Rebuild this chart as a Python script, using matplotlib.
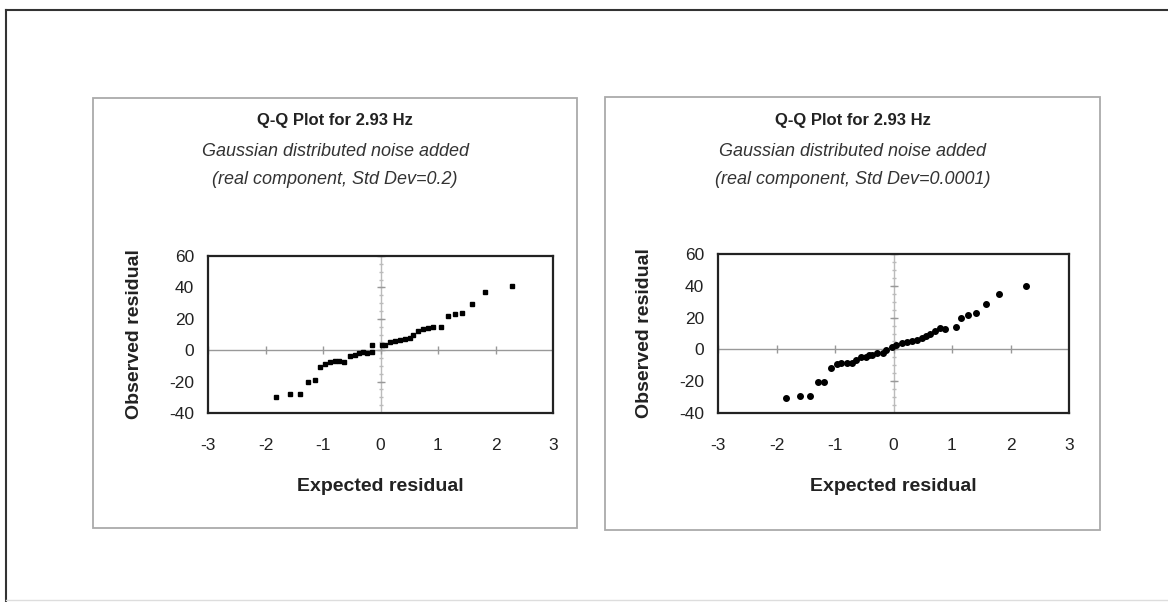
import numpy as np
import matplotlib
matplotlib.use('Agg')
from matplotlib import pyplot as plt
from matplotlib.patches import Rectangle
from matplotlib.lines import Line2D

plt.rcParams['font.family'] = ['Liberation Sans', 'DejaVu Sans']
plt.rcParams['axes.unicode_minus'] = False

# left panel: Std Dev = 0.2
exp_a = [-1.81, -1.57, -1.40, -1.26, -1.14, -1.05, -0.97, -0.88, -0.79, -0.72,
         -0.63, -0.53, -0.44, -0.37, -0.30, -0.24, -0.15, -0.14, 0.02, 0.08,
         0.17, 0.25, 0.34, 0.43, 0.51, 0.57, 0.66, 0.74, 0.83, 0.92,
         1.06, 1.18, 1.29, 1.41, 1.59, 1.82, 2.28]
obs_a = [-30, -28, -28, -20, -19, -11, -9, -7.5, -7, -7,
         -7.5, -3.5, -3, -2, -1, -1.5, -1, 3, 3, 3.5,
         5.5, 6, 6.5, 7, 8, 10, 12, 13.5, 14, 14.5,
         14.5, 22, 23, 24, 29.5, 37, 41]

# right panel: Std Dev = 0.0001
exp_b = [-1.84, -1.60, -1.42, -1.29, -1.18, -1.07, -0.97, -0.89, -0.80, -0.71,
         -0.64, -0.56, -0.47, -0.42, -0.37, -0.28, -0.18, -0.12, -0.03, 0.05,
         0.14, 0.23, 0.31, 0.40, 0.48, 0.56, 0.62, 0.71, 0.79, 0.88,
         1.07, 1.16, 1.28, 1.41, 1.58, 1.81, 2.27]
obs_b = [-30.5, -29, -29, -20.5, -20.5, -11.5, -9.2, -8.8, -8.5, -8.4,
         -6.7, -5, -4.5, -3.8, -3.5, -2.4, -2, -0.4, 1.3, 2.8,
         3.8, 4.8, 5, 5.9, 7, 8.4, 10, 11.8, 13.3, 13,
         13.9, 19.6, 21.6, 23, 28.5, 34.8, 39.9]

xticks = [-3, -2, -1, 0, 1, 2, 3]
yticks = [-40, -20, 0, 20, 40, 60]
title = 'Q-Q Plot for 2.93 Hz'
sub1 = 'Gaussian distributed noise added'
sub2 = ['(real component, Std Dev=0.2)', '(real component, Std Dev=0.0001)']

W, H = 1168, 602
fig = plt.figure(figsize=(W / 100, H / 100), dpi=100)


def fx(px):
    return px / W


def fy(py):
    return 1 - py / H


# outer frame of the scanned page
fig.add_artist(Line2D([fx(6), fx(6)], [fy(10), fy(601)], color='#333333', lw=1.5))
fig.add_artist(Line2D([fx(6), 1], [fy(10), fy(10)], color='#333333', lw=1.5))
fig.add_artist(Line2D([fx(6), 1], [fy(600), fy(600)], color='#dddddd', lw=1))

panels = [(93, 98, 577, 528), (605, 97, 1100, 530)]
axes_px = [(208, 256, 553, 413), (718, 254, 1069, 413)]
data = [(exp_a, obs_a, 's', 3.0), (exp_b, obs_b, 'o', 4.0)]

for i in range(2):
    l, t, r, b = panels[i]
    fig.add_artist(Rectangle((fx(l), fy(b)), fx(r - l), (b - t) / H,
                             fill=False, ec='#aaaaaa', lw=1.3))
    cx = fx((l + r) / 2)
    fig.text(cx, fy(121), title, ha='center', va='center', fontsize=12,
             fontweight='bold', color='#222222')
    fig.text(cx, fy(151), sub1, ha='center', va='center', fontsize=13,
             style='italic', color='#333333')
    fig.text(cx, fy(180), sub2[i], ha='center', va='center', fontsize=13,
             style='italic', color='#333333')

    al, at, ar, ab = axes_px[i]
    ax = fig.add_axes([fx(al), fy(ab), fx(ar - al), (ab - at) / H])
    ax.set_xlim(-3, 3)
    ax.set_ylim(-40, 60)
    ax.set_xticks(xticks)
    ax.set_yticks(yticks)
    ax.tick_params(length=0, labelsize=12.5, colors='#222222', pad=18)
    ax.tick_params(axis='y', pad=10)
    for s in ax.spines.values():
        s.set_linewidth(1.6)
        s.set_color('#222222')

    # zero lines with tick marks, as in the original
    ax.axhline(0, color='#999999', lw=1)
    ax.axvline(0, color='#bbbbbb', lw=1)
    ax.plot(xticks, [0] * len(xticks), ls='none', marker='|', ms=6, color='#999999')
    minor_y = np.arange(-40, 61, 5)
    ax.plot([0] * len(minor_y), minor_y, ls='none', marker='_', ms=3, color='#bbbbbb')
    ax.plot([0] * len(yticks), yticks, ls='none', marker='_', ms=6, color='#999999')

    xs, ys, mk, ms = data[i]
    ax.plot(xs, ys, ls='none', marker=mk, ms=ms, color='black', zorder=5)

    ax.set_xlabel('Expected residual', fontsize=14, fontweight='bold',
                  color='#222222', labelpad=18)
    ax.set_ylabel('Observed residual', fontsize=14, fontweight='bold',
                  color='#222222', labelpad=19)

fig.savefig('out.png', dpi=100)
